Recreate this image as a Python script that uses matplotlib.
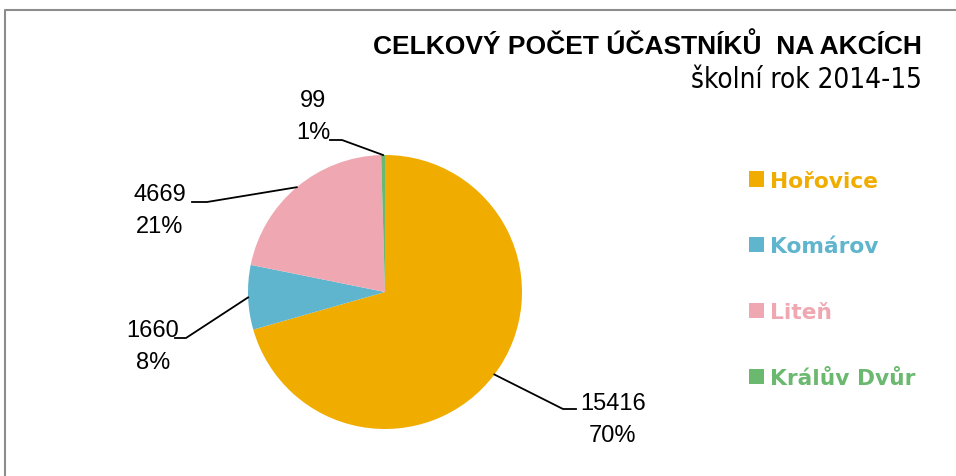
import matplotlib
matplotlib.use("Agg")
import matplotlib.pyplot as plt
import numpy as np
from matplotlib.font_manager import fontManager

names = {f.name for f in fontManager.ttflist}
narrow = "Liberation Sans Narrow" if "Liberation Sans Narrow" in names else "Liberation Sans"

categories = ["Hořovice", "Komárov", "Liteň", "Králův Dvůr"]
values = [15416, 1660, 4669, 99]
percent_labels = ["70%", "8%", "21%", "1%"]
colors = ["#F0AD00", "#60B5CE", "#EFA8B2", "#6BB86F"]

title = "CELKOVÝ POČET ÚČASTNÍKŮ  NA AKCÍCH"
subtitle = "školní rok 2014-15"

W, H = 956, 477
fig = plt.figure(figsize=(W / 100, H / 100), dpi=100)
ax = fig.add_axes([0, 0, 1, 1])

def py(y):
    return H - y

cx, cy, r = 385, py(293), 137
wedges, _ = ax.pie(values, colors=colors, startangle=90, counterclock=False,
                   center=(cx, cy), radius=r, frame=True,
                   wedgeprops=dict(linewidth=0))
ax.set_xlim(0, W)
ax.set_ylim(0, H)
ax.set_aspect("equal")
ax.axis("off")

# frame (cropped chart border)
ax.plot([5, 5, W + 5], [-5, py(11), py(11)], color="#8C8C8C", lw=1.5, clip_on=False)

# label positions (text block centres, pixels) and elbow points
label_pos = [(613, 420), (153, 347), (160, 211), (313, 117)]
elbows = [((563, 410), (576, 410)), ((186, 339), (175, 339)),
          ((207, 203), (192, 203)), ((342, 141), (330, 141))]
for w, v, p, (xt, yt), el in zip(wedges, values, percent_labels, label_pos, elbows):
    ang = np.deg2rad((w.theta1 + w.theta2) / 2)
    ex, ey = cx + r * np.cos(ang), cy + r * np.sin(ang)
    (bx, by), (fx, fy) = el
    ax.plot([ex, bx, fx], [ey, py(by), py(fy)], color="black", lw=1.3)
    ax.text(xt, py(yt), f"{v}\n{p}", ha="center", va="center",
            fontsize=17, family=narrow, linespacing=1.55)

fig.text(922 / W, 1 - 46 / H, title, ha="right", va="center",
         fontsize=19, fontweight="bold", family=narrow)
fig.text(922 / W, 1 - 80 / H, subtitle, ha="right", va="center",
         fontsize=20, family="DejaVu Sans", fontstretch="condensed")

leg = ax.legend(wedges, categories, loc="upper left",
                bbox_to_anchor=(729 / W, 1 - 152 / H), bbox_transform=fig.transFigure,
                frameon=False, handlelength=0.7, handleheight=0.7,
                handletextpad=0.3, labelspacing=2.1,
                prop=dict(family="DejaVu Sans", weight="bold", size=15.7),
                labelcolor=colors)

fig.savefig("out.png", dpi=100)
